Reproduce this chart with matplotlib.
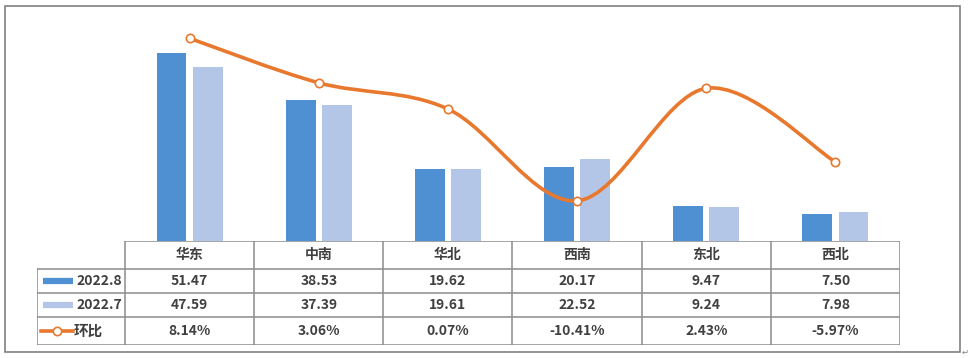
import matplotlib
matplotlib.use("Agg")
import matplotlib.pyplot as plt
import numpy as np
from matplotlib.path import Path
from matplotlib.patches import PathPatch, Rectangle
from matplotlib.lines import Line2D

plt.rcParams['font.family'] = ['Noto Sans CJK SC', 'DejaVu Sans']

regions = ['华东', '中南', '华北', '西南', '东北', '西北']
aug = [51.47, 38.53, 19.62, 20.17, 9.47, 7.50]
jul = [47.59, 37.39, 19.61, 22.52, 9.24, 7.98]
mom = [8.14, 3.06, 0.07, -10.41, 2.43, -5.97]
series_names = ['2022.8', '2022.7', '环比']

c_dark = '#4f90d2'
c_light = '#b3c6e7'
c_line = '#e9782f'
c_grid = '#8c8c8c'
c_text = '#404040'

W, H = 968, 358
fig = plt.figure(figsize=(W / 100, H / 100), dpi=100)

def px(x0, y0, x1, y1):
    # pixel box (top-left origin) -> figure fraction rect
    return [x0 / W, 1 - y1 / H, (x1 - x0) / W, (y1 - y0) / H]

# outer frame
frame = fig.add_axes([0, 0, 1, 1])
frame.set_xlim(0, W)
frame.set_ylim(H, 0)
frame.axis('off')
frame.add_patch(Rectangle((5, 6), 955, 346, fill=False, ec='#808080', lw=1.2))
frame.text(962, 352, '↵', fontsize=6, color='#808080', ha='left', va='center',
           family=['DejaVu Sans'])

# bars + line
ax = fig.add_axes(px(125, 22, 900, 241))
x = np.arange(len(regions))
ax.bar(x - 0.14, aug, width=0.23, color=c_dark)
ax.bar(x + 0.14, jul, width=0.23, color=c_light)
ax.set_xlim(-0.5, len(regions) - 0.5)
ax.set_ylim(0, 60)
ax.axis('off')

ax2 = ax.twinx()
ax2.set_ylim(-15, 10)
ax2.axis('off')

# smoothed curve (Excel-like bezier through the points)
pts = np.column_stack([x, mom])
ext = np.vstack([pts[0], pts, pts[-1]])
verts = [tuple(pts[0])]
codes = [Path.MOVETO]
for i in range(len(pts) - 1):
    p0, p1, p2, p3 = ext[i], ext[i + 1], ext[i + 2], ext[i + 3]
    c1 = p1 + (p2 - p0) / 6
    c2 = p2 - (p3 - p1) / 6
    verts += [tuple(c1), tuple(c2), tuple(p2)]
    codes += [Path.CURVE4] * 3
ax2.add_patch(PathPatch(Path(verts, codes), fill=False, ec=c_line, lw=2.6,
                        capstyle='round', zorder=3))
ax2.plot(x, mom, ls='none', marker='o', ms=6, mfc='white', mec=c_line,
         mew=1.2, zorder=4)

# data table
tb = fig.add_axes(px(37, 241, 900, 345))
left = -0.5 - 88 / 129.17
tb.set_xlim(left, len(regions) - 0.5)
rows_y = [241, 269, 293, 317, 345]
tb.set_ylim(345, 241)
tb.axis('off')

kw = dict(color=c_grid, lw=1.1)
tb.plot([-0.5, len(regions) - 0.5], [rows_y[0]] * 2, **kw)
for yy in rows_y[1:]:
    tb.plot([left, len(regions) - 0.5], [yy] * 2, **kw)
for xx in np.arange(-0.5, len(regions), 1.0):
    tb.plot([xx, xx], [rows_y[0], rows_y[-1]], **kw)
tb.plot([left, left], [rows_y[1], rows_y[-1]], **kw)

tkw = dict(ha='center', va='center', color=c_text, fontsize=10, fontweight='bold')
for i, r in enumerate(regions):
    tb.text(i, (rows_y[0] + rows_y[1]) / 2, r, **tkw)
    tb.text(i, (rows_y[1] + rows_y[2]) / 2, f'{aug[i]:.2f}', **tkw)
    tb.text(i, (rows_y[2] + rows_y[3]) / 2, f'{jul[i]:.2f}', **tkw)
    tb.text(i, (rows_y[3] + rows_y[4]) / 2, f'{mom[i]:.2f}%', **tkw)

# legend keys in first column
k0 = left + 6 / 129.17
k1 = left + 36 / 129.17
for j, col in enumerate([c_dark, c_light]):
    yc = (rows_y[j + 1] + rows_y[j + 2]) / 2
    tb.add_line(Line2D([k0, k1], [yc, yc], color=col, lw=4.5, solid_capstyle='butt'))
    tb.text(-0.5 - 3 / 129.17, yc, series_names[j], ha='right', va='center',
            color=c_text, fontsize=10, fontweight='bold')
yc = (rows_y[3] + rows_y[4]) / 2
tb.add_line(Line2D([left + 4 / 129.17, k1], [yc, yc], color=c_line, lw=2.6))
tb.plot([(left + 4 / 129.17 + k1) / 2], [yc], marker='o', ms=6, mfc='white',
        mec=c_line, mew=1.2)
tb.text(k1 + 1 / 129.17, yc, series_names[2], ha='left', va='center',
        color=c_text, fontsize=10.5, fontweight='bold')

fig.savefig('out.png', dpi=100)
